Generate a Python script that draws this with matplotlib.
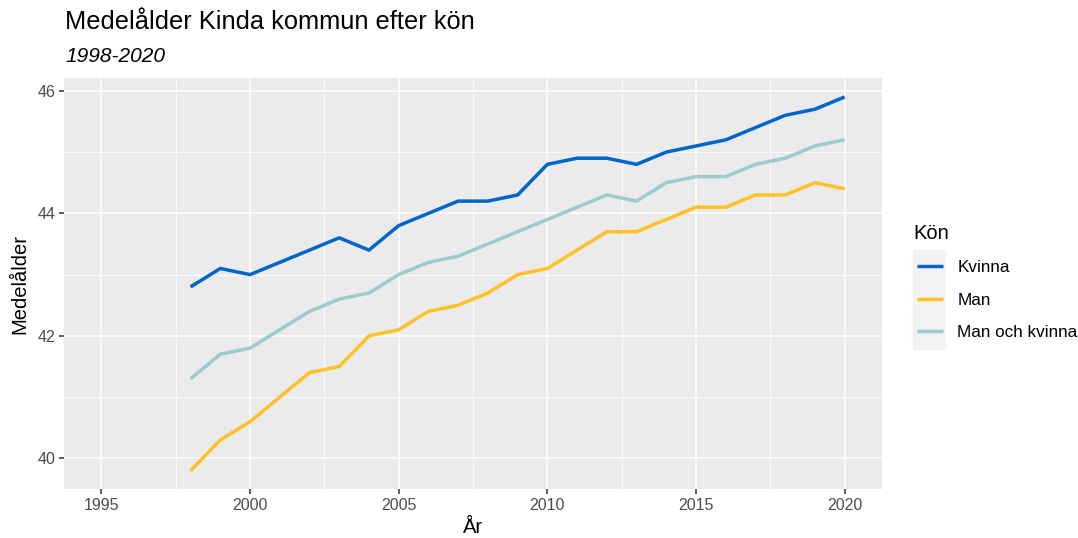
import matplotlib
matplotlib.use("Agg")
import matplotlib.pyplot as plt
from matplotlib.patches import Rectangle
from matplotlib.ticker import FixedLocator

plt.rcParams['font.family'] = ['Liberation Sans', 'DejaVu Sans']

years = list(range(1998, 2021))
kvinna = [42.8, 43.1, 43.0, 43.2, 43.4, 43.6, 43.4, 43.8, 44.0, 44.2, 44.2, 44.3,
          44.8, 44.9, 44.9, 44.8, 45.0, 45.1, 45.2, 45.4, 45.6, 45.7, 45.9]
man = [39.8, 40.3, 40.6, 41.0, 41.4, 41.5, 42.0, 42.1, 42.4, 42.5, 42.7, 43.0,
       43.1, 43.4, 43.7, 43.7, 43.9, 44.1, 44.1, 44.3, 44.3, 44.5, 44.4]
man_och_kvinna = [41.3, 41.7, 41.8, 42.1, 42.4, 42.6, 42.7, 43.0, 43.2, 43.3, 43.5, 43.7,
                  43.9, 44.1, 44.3, 44.2, 44.5, 44.6, 44.6, 44.8, 44.9, 45.1, 45.2]
series_names = ["Kvinna", "Man", "Man och kvinna"]
series_colors = ["#0066CC", "#FFC125", "#99CCCC"]
x_ticks = [1995, 2000, 2005, 2010, 2015, 2020]
y_ticks = [40, 42, 44, 46]

fig = plt.figure(figsize=(10.78, 5.38), dpi=100)
ax = fig.add_axes([0.0596, 0.0905, 0.818 - 0.0596, 0.8545 - 0.0905])
ax.set_facecolor("#EBEBEB")
for s in ax.spines.values():
    s.set_visible(False)

ax.set_xlim(1993.75, 2021.25)
ax.set_ylim(39.495, 46.205)
ax.xaxis.set_major_locator(FixedLocator(x_ticks))
ax.yaxis.set_major_locator(FixedLocator(y_ticks))
ax.xaxis.set_minor_locator(FixedLocator([1997.5, 2002.5, 2007.5, 2012.5, 2017.5]))
ax.yaxis.set_minor_locator(FixedLocator([41, 43, 45]))
ax.grid(which="major", color="white", linewidth=1.1)
ax.grid(which="minor", color="white", linewidth=0.55)
ax.set_axisbelow(True)
ax.tick_params(which="major", length=3.5, width=1.1, color="#333333",
               labelsize=11.5, labelcolor="#4D4D4D", pad=3)
ax.tick_params(which="minor", length=0)

handles = []
for name, vals, col in zip(series_names, [kvinna, man, man_och_kvinna], series_colors):
    h, = ax.plot(years, vals, color=col, linewidth=2.5, label=name,
                 solid_capstyle="butt", solid_joinstyle="round")
    handles.append(h)

ax.set_xlabel("År", fontsize=14.5, labelpad=3)
ax.set_ylabel("Medelålder", fontsize=14.5, labelpad=6)

fig.text(65 / 1078, 1 - 22 / 538, "Medelålder Kinda kommun efter kön",
         fontsize=18.3, va="center", ha="left")
fig.text(65 / 1078, 1 - 57 / 538, "1998-2020", fontsize=15, style="italic",
         va="center", ha="left")

# legend
fig.patches.append(Rectangle((913 / 1078, 1 - 350 / 538), 33 / 1078, 100 / 538,
                             transform=fig.transFigure, facecolor="#F2F2F2",
                             edgecolor="none", zorder=0))
leg = fig.legend(handles=handles, labels=series_names, loc="upper left",
                 bbox_to_anchor=(902 / 1078, 1 - 209 / 538), frameon=False,
                 title="Kön", fontsize=12.3, title_fontsize=14.5,
                 handlelength=1.5, handletextpad=0.84, labelspacing=1.0,
                 alignment="left")
leg.get_title().set_position((-4, 0))

fig.savefig("out.png", dpi=100)
